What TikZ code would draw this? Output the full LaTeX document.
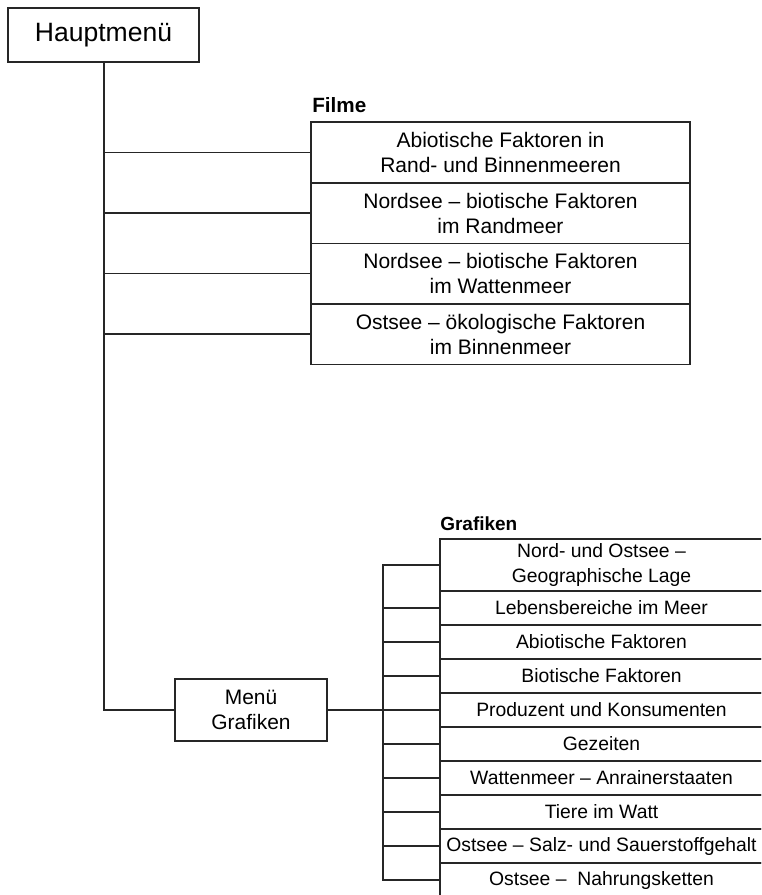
\documentclass[tikz,border=0pt]{standalone}
\usepackage{fontspec}
\setmainfont{Liberation Sans}
\usetikzlibrary{positioning}

\begin{document}
\begin{tikzpicture}[x=0.75pt,y=-0.75pt,
        menubox/.style={draw=black!85,line width=1.1pt,fill=white,align=center,inner sep=0pt,outer sep=0pt},
        filmbox/.style={menubox,minimum width=284.25pt,minimum height=45.4pt,font=\fontsize{15.75}{18.75}\selectfont},
        grafbox/.style={menubox,minimum width=242.25pt,minimum height=25.5pt,font=\fontsize{14.5}{18}\selectfont},
        head/.style={anchor=base west,inner sep=0pt,font=\fontsize{15.5}{18}\selectfont\bfseries},
        link/.style={draw=black!85,line width=1.1pt}]
    \useasboundingbox (0,0) rectangle (761,895);
    \clip (0,0) rectangle (761,895);
    % Hauptmenue
    \node[menubox,line width=1.9pt,minimum width=143.25pt,minimum height=40.5pt,
          font=\fontsize{19.9}{24}\selectfont] (haupt) at (103.5,35) {Hauptmenü};
    % Filme
    \node[head] (filmhead) at (312,113) {Filme};
    \node[filmbox] (f1) at (500.5,152.5) {Abiotische Faktoren in\\Rand- und Binnenmeeren};
    \node[filmbox,below=0pt of f1] (f2) {Nordsee – biotische Faktoren\\im Randmeer};
    \node[filmbox,below=0pt of f2] (f3) {Nordsee – biotische Faktoren\\im Wattenmeer};
    \node[filmbox,below=0pt of f3] (f4) {Ostsee – ökologische Faktoren\\im Binnenmeer};
    % Menue Grafiken
    \node[menubox,minimum width=114pt,minimum height=46.5pt,
          font=\fontsize{15.7}{18.75}\selectfont] (menu) at (251,710) {Menü\\Grafiken};
    \coordinate (gbar) at (383,710);
    % Grafiken
    \node[head,font=\fontsize{14.25}{17}\selectfont\bfseries] (grafhead) at (440,530) {Grafiken};
    \node[grafbox,minimum height=39pt,font=\fontsize{14.5}{18.5}\selectfont] (g1) at (601.5,565) {Nord- und Ostsee –\\Geographische Lage};
    \node[grafbox,below=0pt of g1] (g2) {Lebensbereiche im Meer};
    \node[grafbox,below=0pt of g2] (g3) {Abiotische Faktoren};
    \node[grafbox,below=0pt of g3] (g4) {Biotische Faktoren};
    \node[grafbox,below=0pt of g4] (g5) {Produzent und Konsumenten};
    \node[grafbox,below=0pt of g5] (g6) {Gezeiten};
    \node[grafbox,below=0pt of g6] (g7) {Wattenmeer – Anrainerstaaten};
    \node[grafbox,below=0pt of g7] (g8) {Tiere im Watt};
    \node[grafbox,below=0pt of g8] (g9) {Ostsee – Salz- und Sauerstoffgehalt};
    \node[grafbox,below=0pt of g9] (g10) {Ostsee – ~Nahrungsketten};
    % connectors
    \draw[link,line width=1.5pt] (haupt.south) |- (menu.west);
    \draw[link] (haupt.south |- f1.west) -- (f1.west);
    \draw[link] (haupt.south |- f2.west) -- (f2.west);
    \draw[link] (haupt.south |- f3.west) -- (f3.west);
    \draw[link] (haupt.south |- f4.west) -- (f4.west);
    \draw[link,line width=1.5pt] (menu.east) -- (gbar);
    \draw[link] (g1.west) -| (gbar |- g10.west) -- (g10.west);
    \draw[link] (gbar |- g2.west) -- (g2.west);
    \draw[link] (gbar |- g3.west) -- (g3.west);
    \draw[link] (gbar |- g4.west) -- (g4.west);
    \draw[link] (gbar |- g5.west) -- (g5.west);
    \draw[link] (gbar |- g6.west) -- (g6.west);
    \draw[link] (gbar |- g7.west) -- (g7.west);
    \draw[link] (gbar |- g8.west) -- (g8.west);
    \draw[link] (gbar |- g9.west) -- (g9.west);
\end{tikzpicture}
\end{document}
